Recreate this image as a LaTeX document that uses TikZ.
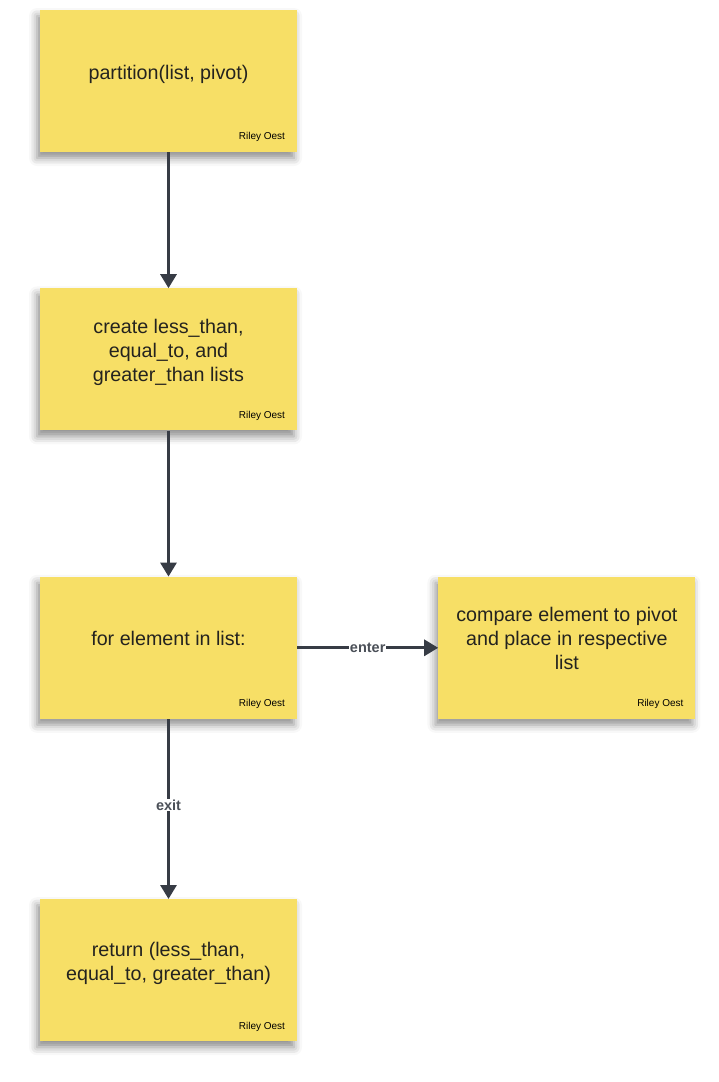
\documentclass[tikz,border=0pt]{standalone}
\usepackage{fontspec}
\setmainfont{Liberation Sans}
\usetikzlibrary{positioning,arrows.meta,shadows.blur}
\definecolor{stickyfill}{HTML}{F7DF66}
\definecolor{linkgray}{HTML}{373C45}
\definecolor{inkgray}{HTML}{24231F}
\tikzset{
  sticky/.style={rectangle, fill=stickyfill, minimum width=257pt, minimum height=142pt,
    align=center, text=inkgray, font=\fontsize{19.7}{24}\selectfont, text depth=18pt,
    blur shadow={shadow xshift=-3pt, shadow yshift=-6pt, shadow blur radius=8pt, shadow opacity=45}},
  sign/.style={anchor=south east, xshift=-12pt, yshift=10pt, inner sep=0pt,
    font=\fontsize{10}{12}\selectfont, text=black},
  link/.style={-{Triangle[width=16pt,length=14pt]}, line width=3pt, draw=linkgray},
  tag/.style={fill=white, inner sep=1pt, text=linkgray!90,
    font=\bfseries\fontsize{14.5}{16}\selectfont}
}
\begin{document}
\begin{tikzpicture}[>=latex]
  \useasboundingbox (0pt,0pt) rectangle (718pt,-1082pt);

  \node [sticky] (part) at (168.5pt,-81pt) {partition(list, pivot)};
  \node [sticky, below=136pt of part] (lists) {create less\_than,\\equal\_to, and\\greater\_than lists};
  \node [sticky, below=146pt of lists] (loop) {for element in list:};
  \node [sticky, right=141pt of loop] (place) {compare element to pivot\\and place in respective\\list};
  \node [sticky, below=180pt of loop] (ret) {return (less\_than,\\equal\_to, greater\_than)};

  % author tag on every note
  \foreach \n in {part,lists,loop,place,ret}
    \node [sign] (\n-sign) at (\n.south east) {Riley Oest};

  \draw[link] (part) -- (lists);
  \draw[link] (lists) -- (loop);
  \draw[link] (loop) -- node[tag] (enter) {enter} (place);
  \draw[link] (loop) -- node[tag, yshift=4pt] (exit) {exit} (ret);
\end{tikzpicture}
\end{document}
